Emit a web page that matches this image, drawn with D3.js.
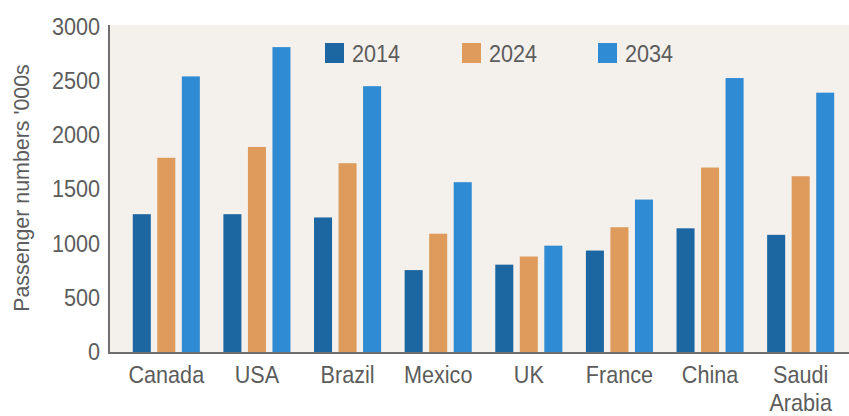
<!DOCTYPE html>
<html>
<head>
<meta charset="utf-8">
<script src="https://cdn.jsdelivr.net/npm/d3@7"></script>
<style>
  html, body { margin: 0; padding: 0; background: #ffffff; }
  svg { display: block; }
  text { font-family: "Liberation Sans Narrow", "Liberation Sans", "DejaVu Sans Condensed", sans-serif; fill: #5c5c5c; }
</style>
</head>
<body>
<svg id="chart" width="849" height="416"></svg>
<script>
// Passenger numbers ('000s) by country, for three years
const countries = ["Canada", "USA", "Brazil", "Mexico", "UK", "France", "China", "Saudi Arabia"];
const years = ["2014", "2024", "2034"];
const values2014 = [1270, 1270, 1240, 755, 805, 935, 1140, 1080];
const values2024 = [1790, 1890, 1740, 1090, 880, 1150, 1700, 1620];
const values2034 = [2540, 2810, 2450, 1565, 980, 1405, 2525, 2390];
const yTicks = [0, 500, 1000, 1500, 2000, 2500, 3000];
const yTitle = "Passenger numbers '000s";

const seriesByYear = { "2014": values2014, "2024": values2024, "2034": values2034 };
const colors = { "2014": "#1c67a1", "2024": "#df9b5c", "2034": "#2f8bd3" };

// text is set in a slightly condensed face
const SQUEEZE = 0.9;

const svg = d3.select("#chart");
const plot = { left: 110, right: 849, top: 25, bottom: 353 };

// light panel behind the plot
svg.append("rect")
  .attr("x", plot.left).attr("y", plot.top)
  .attr("width", plot.right - plot.left).attr("height", plot.bottom - plot.top)
  .attr("fill", "#f4f0ec");

const y = d3.scaleLinear().domain([0, 3000]).range([352, 26.5]);

const x0 = d3.scaleBand().domain(countries).range([121, 846]).paddingInner(0).paddingOuter(0);
const x1 = d3.scaleBand().domain(years).range([0, x0.bandwidth()]).paddingInner(0.265).paddingOuter(0.48);

// bars
const groups = svg.append("g").selectAll("g")
  .data(countries)
  .join("g")
  .attr("transform", d => `translate(${x0(d)},0)`);

groups.selectAll("rect")
  .data((c, i) => years.map(yr => ({ year: yr, value: seriesByYear[yr][i] })))
  .join("rect")
  .attr("x", d => x1(d.year))
  .attr("width", x1.bandwidth())
  .attr("y", d => y(d.value))
  .attr("height", d => y(0) - y(d.value))
  .attr("fill", d => colors[d.year]);

// y axis
const yAxis = d3.axisLeft(y).tickValues(yTicks).tickSize(0).tickPadding(10).tickFormat(d3.format("d"));
const gy = svg.append("g").attr("transform", `translate(109,0)`).call(yAxis);
gy.select(".domain").remove();
gy.selectAll("text")
  .attr("font-size", 24)
  .attr("transform", `scale(${SQUEEZE},1)`)
  .style("fill", "#5c5c5c")
  .style("font-family", '"Liberation Sans Narrow", "Liberation Sans", sans-serif');

svg.append("line")
  .attr("x1", 109).attr("x2", 109).attr("y1", 25).attr("y2", 353.5)
  .attr("stroke", "#6e6e6e").attr("stroke-width", 2);

// x axis baseline and labels
svg.append("line")
  .attr("x1", 108).attr("x2", 849).attr("y1", 353).attr("y2", 353)
  .attr("stroke", "#6e6e6e").attr("stroke-width", 2);

const xLabels = svg.append("g");
countries.forEach(c => {
  const cx = x0(c) + x0.bandwidth() / 2;
  const parts = c.split(" ");
  const t = xLabels.append("g")
    .attr("transform", `translate(${cx},383) scale(${SQUEEZE},1)`)
    .append("text")
    .attr("text-anchor", "middle")
    .attr("font-size", 24);
  parts.forEach((p, i) => {
    t.append("tspan").attr("x", 0).attr("dy", i === 0 ? 0 : 28).text(p);
  });
});

// y axis title
svg.append("text")
  .attr("transform", "translate(29,188) rotate(-90) scale(0.93,1)")
  .attr("text-anchor", "middle")
  .attr("font-size", 23)
  .text(yTitle);

// legend
const legendX = { "2014": 325, "2024": 462, "2034": 598 };
const legend = svg.append("g");
years.forEach(yr => {
  legend.append("rect")
    .attr("x", legendX[yr]).attr("y", 43)
    .attr("width", 19).attr("height", 20)
    .attr("fill", colors[yr]);
  legend.append("text")
    .attr("transform", `translate(${legendX[yr] + 27},62) scale(${SQUEEZE},1)`)
    .attr("font-size", 24)
    .text(yr);
});
</script>
</body>
</html>
